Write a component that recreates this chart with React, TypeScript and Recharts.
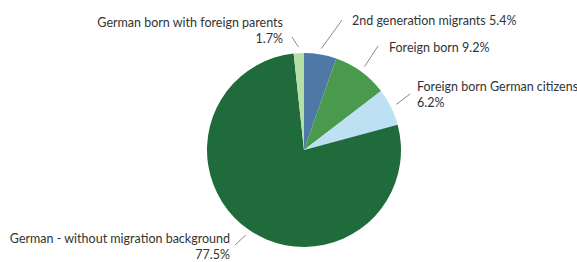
import { PieChart, Pie, Cell } from "recharts";

const groups = [
  "2nd generation migrants",
  "Foreign born",
  "Foreign born German citizens",
  "German - without migration background",
  "German born with foreign parents",
];
const shares = [5.4, 9.2, 6.2, 77.5, 1.7];
const colors = ["#4e79a7", "#4a9a4e", "#bde0f3", "#1f6b3c", "#b6dfa6"];

// where each leader line ends (from pie centre) and where its text sits (from line end)
const labelLayout = [
  { dx: 38, dy: -130, tx: 10, ty: 0, anchor: "start", split: false },
  { dx: 74, dy: -104, tx: 11, ty: 1, anchor: "start", split: false },
  { dx: 106, dy: -56, tx: 7, ty: -8, anchor: "start", split: true },
  { dx: -69, dy: 95, tx: -5, ty: -7, anchor: "end", split: true },
  { dx: -12, dy: -113, tx: -9, ty: -15, anchor: "end", split: true },
];

const data = groups.map((name, i) => ({ name, value: shares[i] }));

const RAD = Math.PI / 180;
const FONT = "Lato, sans-serif";

function renderLabel(props: any) {
  const { cx, cy, midAngle, outerRadius, index, name, value } = props;
  const l = labelLayout[index];
  const sx = cx + (outerRadius + 6) * Math.cos(-midAngle * RAD);
  const sy = cy + (outerRadius + 6) * Math.sin(-midAngle * RAD);
  const ex = cx + l.dx;
  const ey = cy + l.dy;
  const x = ex + l.tx;
  const y = ey + l.ty;
  const pct = `${value.toFixed(1)}%`;
  return (
    <g>
      <line x1={sx} y1={sy} x2={ex} y2={ey} stroke="#8a8a8a" strokeWidth={1} />
      <text
        x={x}
        y={y}
        textAnchor={l.anchor}
        dominantBaseline="central"
        fill="#333"
        fontSize={12.5}
        fontFamily={FONT}
      >
        {l.split ? name : `${name} ${pct}`}
      </text>
      {l.split && (
        <text
          x={x}
          y={y + 16}
          textAnchor={l.anchor}
          dominantBaseline="central"
          fill="#333"
          fontSize={12.5}
          fontFamily={FONT}
        >
          {pct}
        </text>
      )}
    </g>
  );
}

export default function App() {
  return (
    <div style={{ position: "absolute", left: 0, top: 0, width: 577, height: 262, background: "#fff" }}>
      <PieChart width={577} height={262} margin={{ top: 0, right: 0, bottom: 0, left: 0 }}>
        <Pie
          data={data}
          dataKey="value"
          nameKey="name"
          cx={304}
          cy={150}
          outerRadius={97}
          startAngle={90}
          endAngle={-270}
          stroke="none"
          label={renderLabel}
          labelLine={false}
          isAnimationActive={false}
        >
          {data.map((d, i) => (
            <Cell key={d.name} fill={colors[i]} />
          ))}
        </Pie>
      </PieChart>
    </div>
  );
}
